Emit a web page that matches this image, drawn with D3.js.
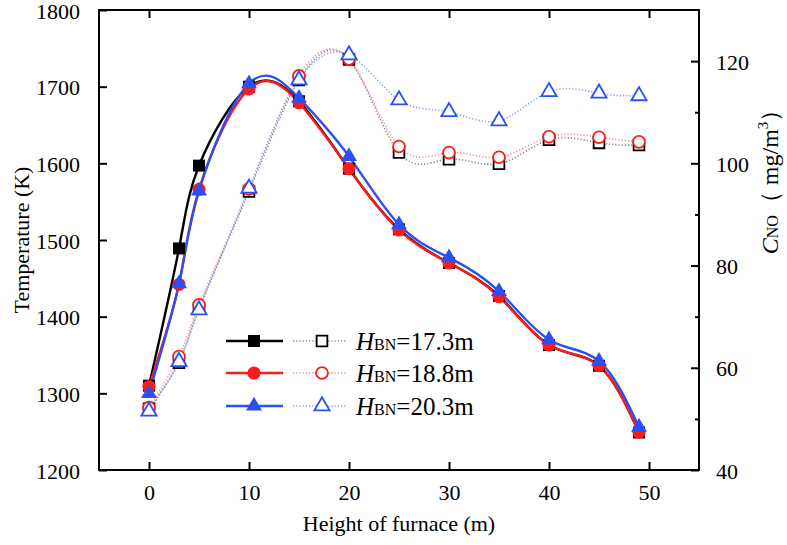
<!DOCTYPE html>
<html><head><meta charset="utf-8">
<script src="https://cdn.jsdelivr.net/npm/d3@7"></script>
<style>
body{margin:0;background:#fff;}
svg text{font-family:"Times New Roman","Liberation Serif","DejaVu Serif",serif !important;fill:#000;}
</style></head>
<body><svg id="c" width="787" height="545"></svg>
<script>
const heights = [0, 3, 5, 10, 15, 20, 25, 30, 35, 40, 45, 49];
const seriesNames = ["17.3m", "18.8m", "20.3m"];
const tempA = [1310, 1489, 1597, 1700, 1681, 1593, 1514, 1470, 1427, 1363, 1336, 1249];
const tempB = [1309, 1442, 1566, 1697, 1679, 1593, 1513, 1470, 1426, 1363, 1336, 1249];
const tempC = [1300, 1443, 1564, 1704, 1685, 1609, 1520, 1477, 1433, 1370, 1342, 1256];
const noA = [52.0, 61.0, 71.6, 94.5, 116.3, 120.3, 102.1, 100.8, 99.9, 104.6, 104.0, 103.6];
const noB = [52.2, 62.2, 72.3, 95.0, 117.1, 120.4, 103.3, 102.1, 101.2, 105.2, 105.1, 104.2];
const noC = [51.5, 61.2, 71.3, 95.1, 116.3, 121.2, 112.4, 110.1, 108.3, 114.0, 113.7, 113.2];
const xTicks = [0, 10, 20, 30, 40, 50];
const tTicks = [1200, 1300, 1400, 1500, 1600, 1700, 1800];
const nTicks = [40, 60, 80, 100, 120];
const nMinor = [50, 70, 90, 110];

const colors = ["#000000", "#ff1a1a", "#2a4ff2"];
const dotColors = ["#888888", "#ff8a8a", "#8a9cff"];
const symbols = [d3.symbolSquare, d3.symbolCircle, d3.symbolTriangle];
const fillSizes = [144, 135, 110];
const openSizes = [115, 110, 100];

const svg = d3.select("#c");
const L = 99, R = 699, T = 10, B = 470;
const x = d3.scaleLinear().domain([-5, 55]).range([L, R]);
const yT = d3.scaleLinear().domain([1200, 1800]).range([B, T]);
const yN = d3.scaleLinear().domain([40, 130]).range([B, T]);

const temps = [tempA, tempB, tempC];
const nos = [noA, noB, noC];

// NO dotted curves
const lineN = d3.line().curve(d3.curveNatural).x(d => x(d[0])).y(d => yN(d[1]));
nos.forEach((s, i) => {
  svg.append("path").datum(heights.map((h, j) => [h, s[j]]))
    .attr("d", lineN).attr("fill", "none").attr("stroke", dotColors[i])
    .attr("stroke-width", 1.6).attr("stroke-dasharray", "1.2 2");
});
// Temperature curves
const lineT = d3.line().curve(d3.curveNatural).x(d => x(d[0])).y(d => yT(d[1]));
temps.forEach((s, i) => {
  svg.append("path").datum(heights.map((h, j) => [h, s[j]]))
    .attr("d", lineT).attr("fill", "none").attr("stroke", colors[i])
    .attr("stroke-width", 2.4);
});
// open markers
nos.forEach((s, i) => {
  svg.append("g").selectAll("path").data(heights.map((h, j) => [h, s[j]])).join("path")
    .attr("transform", d => `translate(${x(d[0])},${yN(d[1])})`)
    .attr("d", d3.symbol().type(symbols[i]).size(openSizes[i]))
    .attr("fill", "#fff").attr("stroke", colors[i]).attr("stroke-width", 1.8);
});
// filled markers
temps.forEach((s, i) => {
  svg.append("g").selectAll("path").data(heights.map((h, j) => [h, s[j]])).join("path")
    .attr("transform", d => `translate(${x(d[0])},${yT(d[1])})`)
    .attr("d", d3.symbol().type(symbols[i]).size(fillSizes[i]))
    .attr("fill", colors[i]);
});

// axes
const fs = 22;
svg.append("g").attr("transform", `translate(0,${B})`)
  .call(d3.axisBottom(x).tickValues(xTicks).tickSize(-8).tickPadding(14).tickFormat(d3.format("d")));
svg.append("g").attr("transform", `translate(0,${T})`)
  .call(d3.axisTop(x).tickValues(xTicks).tickSize(-8).tickFormat(""));
svg.append("g").attr("class", "yl").attr("transform", `translate(${L},0)`)
  .call(d3.axisLeft(yT).tickValues(tTicks).tickSize(-8).tickPadding(19).tickFormat(d3.format("d")));
svg.append("g").attr("class", "yr").attr("transform", `translate(${R},0)`)
  .call(d3.axisRight(yN).tickValues(nTicks).tickSize(-8).tickPadding(17).tickFormat(d3.format("d")));
svg.append("g").attr("transform", `translate(${R},0)`)
  .call(d3.axisRight(yN).tickValues(nMinor).tickSize(-4).tickFormat(""));
svg.selectAll(".domain").remove();
svg.selectAll(".tick line").attr("stroke", "#000").attr("stroke-width", 2);
svg.selectAll(".tick text").attr("font-size", fs);
svg.selectAll(".yl .tick text, .yr .tick text").attr("dy", "0.37em");
svg.append("rect").attr("x", L).attr("y", T).attr("width", R - L).attr("height", B - T)
  .attr("fill", "none").attr("stroke", "#000").attr("stroke-width", 2);

// axis titles
svg.append("text").attr("x", (L + R) / 2).attr("y", 531).attr("text-anchor", "middle")
  .attr("font-size", 22).text("Height of furnace (m)");
svg.append("text").attr("transform", `translate(29,${(T + B) / 2}) rotate(-90)`)
  .attr("text-anchor", "middle").attr("font-size", 22).text("Temperature (K)");
const rt = svg.append("text").attr("transform", `translate(778,176) rotate(-90)`)
  .attr("text-anchor", "middle").attr("font-size", 24);
rt.append("tspan").attr("font-style", "italic").text("C");
rt.append("tspan").attr("font-size", 16).text("NO");
rt.append("tspan").text("（ mg/m");
rt.append("tspan").attr("font-size", 15).attr("dy", -10).text("3");
rt.append("tspan").attr("dy", 10).text("）");

// legend
const legY = [341, 373, 406];
seriesNames.forEach((n, i) => {
  const g = svg.append("g");
  g.append("line").attr("x1", 226).attr("x2", 283).attr("y1", legY[i]).attr("y2", legY[i])
    .attr("stroke", colors[i]).attr("stroke-width", 2.4);
  g.append("path").attr("transform", `translate(254,${legY[i]})`)
    .attr("d", d3.symbol().type(symbols[i]).size(fillSizes[i])).attr("fill", colors[i]);
  g.append("line").attr("x1", 293).attr("x2", 347).attr("y1", legY[i]).attr("y2", legY[i])
    .attr("stroke", dotColors[i]).attr("stroke-width", 1.6).attr("stroke-dasharray", "1.2 2");
  g.append("path").attr("transform", `translate(322,${legY[i]})`)
    .attr("d", d3.symbol().type(symbols[i]).size(openSizes[i]))
    .attr("fill", "#fff").attr("stroke", colors[i]).attr("stroke-width", 1.8);
  const t = g.append("text").attr("x", 356).attr("y", legY[i] + 9).attr("font-size", 25);
  t.append("tspan").attr("font-style", "italic").text("H");
  t.append("tspan").attr("font-size", 16).text("BN");
  t.append("tspan").text("=" + n);
});
</script></body></html>
